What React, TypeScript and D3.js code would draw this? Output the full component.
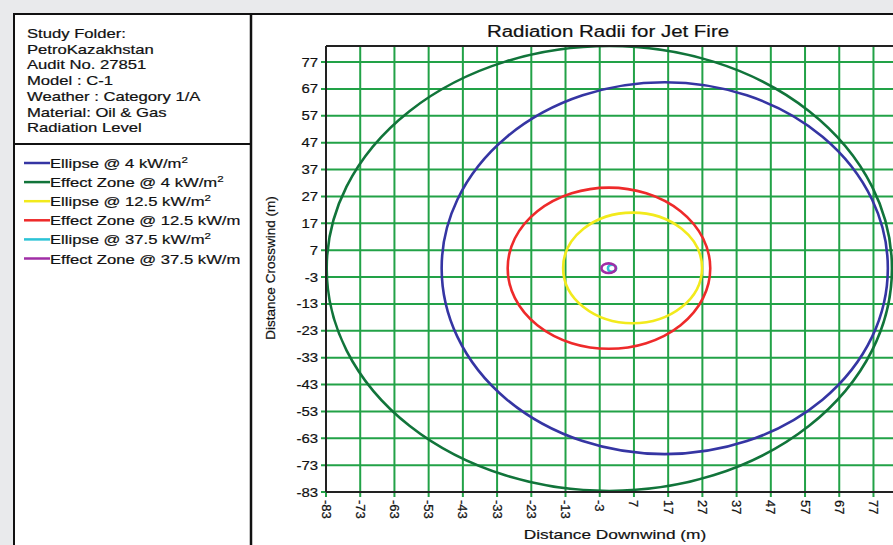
import React from 'react';
import { scaleLinear } from 'd3';

// study info shown in the top-left box
const infoLines = [
  'Study Folder:',
  'PetroKazakhstan',
  'Audit No. 27851',
  'Model : C-1',
  'Weather : Category 1/A',
  'Material: Oil & Gas',
  'Radiation Level',
];

// series (one ellipse per radiation contour)
const seriesNames = [
  'Ellipse @ 4 kW/m',
  'Effect Zone @ 4 kW/m',
  'Ellipse @ 12.5 kW/m',
  'Effect Zone @ 12.5 kW/m',
  'Ellipse @ 37.5 kW/m',
  'Effect Zone @ 37.5 kW/m',
];
const seriesSup = ['2', '2', '2', '', '2', ''];
const seriesColors = ['#3535a3', '#11743a', '#f2ea1c', '#ee2a2a', '#2cc3d6', '#a02ea6'];
const centerX = [16, -0.2, 6.6, -0.3, 0.6, -0.4];
const centerY = [0.3, 0.2, 0.4, 0.3, 0.3, 0.3];
const radiusX = [65.2, 82.6, 20.3, 29.6, 1.2, 2.1];
const radiusY = [69.2, 82.8, 20.6, 30.0, 1.3, 1.8];

// axis ticks
const xTicks = [-83, -73, -63, -53, -43, -33, -23, -13, -3, 7, 17, 27, 37, 47, 57, 67, 77];
const yTicks = [-83, -73, -63, -53, -43, -33, -23, -13, -3, 7, 17, 27, 37, 47, 57, 67, 77];
const domainX = [-83, 83];
const domainY = [-83, 83];

const W = 893;
const H = 545;
const plot = { left: 326, right: 894, top: 46, bottom: 492 };
const font = 'Arial, "Liberation Sans", sans-serif';
const stretch = 1.28; // the source text is wider than plain Arial

// text drawn with a horizontal stretch
const WideText = ({ x, y, size, anchor = 'start', sx = stretch, children }) => (
  <g transform={`translate(${x}, ${y}) scale(${sx}, 1)`}>
    <text fontSize={size} textAnchor={anchor} fill="#111" stroke="#111" strokeWidth={0.2}>
      {children}
    </text>
  </g>
);

const App = () => {
  const x = scaleLinear().domain(domainX).range([plot.left, plot.right]);
  const y = scaleLinear().domain(domainY).range([plot.bottom, plot.top]);
  const gridColor = '#22a247';

  return (
    <div style={{ position: 'fixed', left: 0, top: 0, width: W, height: H, background: '#e9eaec' }}>
      <svg width={W} height={H} style={{ display: 'block' }} fontFamily={font}>
        <defs>
          <clipPath id="plotClip">
            <rect x={plot.left} y={plot.top} width={plot.right - plot.left} height={plot.bottom - plot.top} />
          </clipPath>
          <clipPath id="legendClip">
            <rect x={14} y={144} width={236} height={H} />
          </clipPath>
        </defs>
        {/* white frame */}
        <rect x={14} y={14} width={W} height={H} fill="#fff" stroke="#111" strokeWidth={2} />
        <line x1={251} x2={251} y1={14} y2={H} stroke="#111" strokeWidth={2.5} />
        <line x1={14} x2={251} y1={144} y2={144} stroke="#111" strokeWidth={2} />

        {/* info box */}
        {infoLines.map((t, i) => (
          <WideText key={t} x={27} y={38 + i * 15.7} size={13}>
            {t}
          </WideText>
        ))}

        {/* legend */}
        <g clipPath="url(#legendClip)">
          {seriesNames.map((name, i) => (
            <g key={name} transform={`translate(0, ${163 + i * 19.1})`}>
              <line x1={24} x2={50} y1={0} y2={0} stroke={seriesColors[i]} strokeWidth={2.5} />
              <WideText x={50} y={5} size={13}>
                {name}
                {seriesSup[i] && (
                  <tspan fontSize={9} dy={-5}>
                    {seriesSup[i]}
                  </tspan>
                )}
              </WideText>
            </g>
          ))}
        </g>

        {/* title */}
        <WideText x={608} y={37} size={16} anchor="middle">
          Radiation Radii for Jet Fire
        </WideText>

        {/* grid */}
        <rect x={plot.left} y={plot.top} width={plot.right - plot.left} height={plot.bottom - plot.top} fill="#fff" />
        {xTicks.map(t => (
          <line key={`gx${t}`} x1={x(t)} x2={x(t)} y1={plot.top} y2={plot.bottom + 5} stroke={gridColor} strokeWidth={2} />
        ))}
        {yTicks.map(t => (
          <line key={`gy${t}`} x1={plot.left - 5} x2={plot.right} y1={y(t)} y2={y(t)} stroke={gridColor} strokeWidth={2} />
        ))}

        {/* contours */}
        <g clipPath="url(#plotClip)">
          {seriesNames.map((name, i) => (
            <ellipse
              key={name}
              cx={x(centerX[i])}
              cy={y(centerY[i])}
              rx={x(centerX[i] + radiusX[i]) - x(centerX[i])}
              ry={y(centerY[i]) - y(centerY[i] + radiusY[i])}
              fill="none"
              stroke={seriesColors[i]}
              strokeWidth={2.6}
            />
          ))}
        </g>

        {/* plot frame */}
        <line x1={plot.left} x2={plot.right} y1={plot.top} y2={plot.top} stroke="#222" strokeWidth={2} />
        <line x1={plot.left} x2={plot.left} y1={plot.top} y2={plot.bottom} stroke="#222" strokeWidth={2} />
        <line x1={plot.left} x2={plot.right} y1={plot.bottom} y2={plot.bottom} stroke="#222" strokeWidth={2} />

        {/* y ticks */}
        {yTicks.map(t => (
          <WideText key={`ty${t}`} x={318} y={y(t) + 4.5} size={13} anchor="end" sx={1.15}>
            {t}
          </WideText>
        ))}
        {/* x ticks, rotated */}
        {xTicks.map(t => (
          <text
            key={`tx${t}`}
            transform={`translate(${x(t) - 4.5}, ${plot.bottom + 8}) rotate(90)`}
            fontSize={13}
            textAnchor="start"
            fill="#111"
            stroke="#111"
            strokeWidth={0.25}
          >
            {t}
          </text>
        ))}

        {/* axis titles */}
        <WideText x={615} y={539} size={13.5} anchor="middle">
          Distance Downwind (m)
        </WideText>
        <text transform="translate(275, 268) rotate(-90)" fontSize={13.5} textAnchor="middle" fill="#111" stroke="#111" strokeWidth={0.2}>
          Distance Crosswind (m)
        </text>
      </svg>
    </div>
  );
};

export default App;
